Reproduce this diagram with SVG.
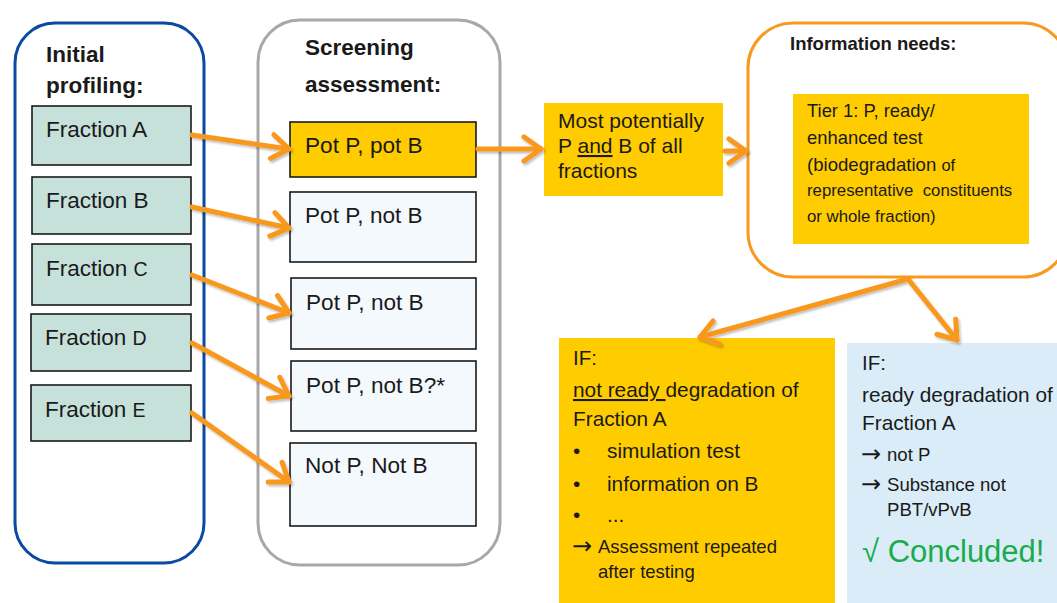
<svg xmlns="http://www.w3.org/2000/svg" width="1057" height="603" viewBox="0 0 1057 603">
  <defs>
    <style>
      text { font-family: "Liberation Sans", Arial, sans-serif; fill: #1a1a1a; }
      .title { font-weight: bold; font-size: 22.5px; }
      .frac { fill: #c6e0da; stroke: #1a1a1a; stroke-width: 1.6; }
      .frac-t { font-size: 22.5px; }
      .screen { fill: #f4f9fd; stroke: #1a1a1a; stroke-width: 1.6; }
      .screen-t { font-size: 22.6px; }
      .yellow { fill: #ffcc00; }
      .arr { font-family: "DejaVu Sans", sans-serif; font-size: 24px; }
      .conn { fill: none; stroke: #f8981d; stroke-width: 5; stroke-linecap: round; }
    </style>
    <marker id="chev" markerUnits="userSpaceOnUse" markerWidth="40" markerHeight="40" viewBox="-25 -20 40 40" refX="0" refY="0" orient="auto" overflow="visible">
      <path d="M -17 -12 L 0 0 L -17 12" fill="none" stroke="#f8981d" stroke-width="5" stroke-linecap="round" stroke-linejoin="round"/>
    </marker>
    <filter id="shade" x="-10%" y="-10%" width="120%" height="120%">
      <feDropShadow dx="1.5" dy="2" stdDeviation="1.2" flood-color="#000" flood-opacity="0.25"/>
    </filter>
  </defs>

  <rect width="1057" height="603" fill="#ffffff"/>

  <!-- column: initial profiling -->
  <g id="initial-profiling">
    <rect x="15" y="23" width="189" height="540" rx="40" fill="#ffffff" stroke="#0b4aa2" stroke-width="3"/>
    <text class="title" x="46" y="62">Initial</text>
    <text class="title" x="46" y="93">profiling:</text>
  </g>
  <g id="fraction-a">
    <rect class="frac" x="32" y="106" width="159" height="59"/>
    <text class="frac-t" x="46" y="137">Fraction A</text>
  </g>
  <g id="fraction-b">
    <rect class="frac" x="32" y="177" width="159" height="57"/>
    <text class="frac-t" x="46" y="208">Fraction B</text>
  </g>
  <g id="fraction-c">
    <rect class="frac" x="32" y="244" width="159" height="61"/>
    <text class="frac-t" x="46" y="276">Fraction <tspan font-size="19.5">C</tspan></text>
  </g>
  <g id="fraction-d">
    <rect class="frac" x="31" y="314" width="160" height="57"/>
    <text class="frac-t" x="45" y="345">Fraction <tspan font-size="19.5">D</tspan></text>
  </g>
  <g id="fraction-e">
    <rect class="frac" x="31" y="385" width="160" height="56"/>
    <text class="frac-t" x="45" y="417">Fraction <tspan font-size="19.5">E</tspan></text>
  </g>

  <!-- column: screening assessment -->
  <g id="screening-assessment">
    <rect x="258" y="20" width="242" height="545" rx="42" fill="#ffffff" stroke="#a8a8a8" stroke-width="3"/>
    <text class="title" x="305" y="55">Screening</text>
    <text class="title" x="305" y="92">assessment:</text>
  </g>
  <g id="pot-p-pot-b">
    <rect x="290" y="122" width="186" height="55" fill="#ffcc00" stroke="#1a1a1a" stroke-width="1.6"/>
    <text class="screen-t" x="305" y="153">Pot P, pot B</text>
  </g>
  <g id="pot-p-not-b-1">
    <rect class="screen" x="290" y="192" width="186" height="70"/>
    <text class="screen-t" x="305" y="223">Pot P, not B</text>
  </g>
  <g id="pot-p-not-b-2">
    <rect class="screen" x="291" y="278" width="185" height="71"/>
    <text class="screen-t" x="306" y="310">Pot P, not B</text>
  </g>
  <g id="pot-p-not-b-q">
    <rect class="screen" x="291" y="361" width="185" height="70"/>
    <text class="screen-t" x="306" y="393">Pot P, not B?*</text>
  </g>
  <g id="not-p-not-b">
    <rect class="screen" x="290" y="443" width="186" height="83"/>
    <text class="screen-t" x="305" y="473">Not P, Not B</text>
  </g>

  <!-- most potentially P and B -->
  <g id="most-potentially">
    <rect class="yellow" x="544" y="103" width="179" height="93"/>
    <text x="558" y="128" font-size="21">Most potentially</text>
    <text x="558" y="153" font-size="21">P <tspan text-decoration="underline">and</tspan> B of all</text>
    <text x="558" y="178" font-size="21">fractions</text>
  </g>

  <!-- information needs -->
  <g id="information-needs">
    <rect x="748" y="23" width="320" height="254" rx="45" fill="#ffffff" stroke="#f79a1e" stroke-width="3"/>
    <text x="790" y="50" font-size="18.5" font-weight="bold">Information needs:</text>
  </g>
  <g id="tier-1">
    <rect class="yellow" x="793" y="94" width="236" height="150"/>
    <text x="807" y="117" font-size="18.4">Tier 1: P, ready/</text>
    <text x="807" y="144" font-size="18.4">enhanced test</text>
    <text x="807" y="171" font-size="18.6">(biodegradation <tspan font-size="16.5">of</tspan></text>
    <text x="807" y="196" font-size="16.8" xml:space="preserve">representative  constituents</text>
    <text x="807" y="222" font-size="16.8">or whole fraction)</text>
  </g>

  <!-- outcome: not ready degradation -->
  <g id="if-not-ready">
    <rect class="yellow" x="559" y="338" width="276" height="265"/>
    <text x="573" y="365" font-size="20.5">IF:</text>
    <text x="573" y="397" font-size="20.8"><tspan text-decoration="underline">not ready </tspan>degradation of</text>
    <text x="573" y="426" font-size="20.8">Fraction A</text>
    <text x="573" y="458" font-size="20.8">•</text>
    <text x="607" y="458" font-size="20.8">simulation test</text>
    <text x="573" y="491" font-size="20.8">•</text>
    <text x="607" y="491" font-size="20.8">information on B</text>
    <text x="573" y="522" font-size="20.8">•</text>
    <text x="607" y="522" font-size="20.8">...</text>
    <text class="arr" x="572" y="554">→</text>
    <text x="598" y="553" font-size="18.5">Assessment repeated</text>
    <text x="598" y="578" font-size="18.5">after testing</text>
  </g>

  <!-- outcome: ready degradation -->
  <g id="if-ready">
    <rect x="847" y="343" width="215" height="265" fill="#d9ecf7"/>
    <text x="862" y="370" font-size="20.5">IF:</text>
    <text x="862" y="402" font-size="20.8">ready degradation of</text>
    <text x="862" y="430" font-size="20.8">Fraction A</text>
    <text class="arr" x="861" y="462">→</text>
    <text x="887" y="461" font-size="18.6">not P</text>
    <text class="arr" x="861" y="492">→</text>
    <text x="887" y="491" font-size="18.6">Substance not</text>
    <text x="887" y="516" font-size="18.6">PBT/vPvB</text>
    <text x="862" y="562" font-size="31" style="fill:#1aab4b">√ Concluded!</text>
  </g>

  <!-- connectors -->
  <g id="connectors" class="conn" filter="url(#shade)">
    <line x1="192" y1="135" x2="289" y2="149" marker-end="url(#chev)"/>
    <line x1="192" y1="207" x2="289" y2="228" marker-end="url(#chev)"/>
    <line x1="192" y1="275" x2="289" y2="313" marker-end="url(#chev)"/>
    <line x1="192" y1="343" x2="289" y2="396" marker-end="url(#chev)"/>
    <line x1="192" y1="413" x2="289" y2="482" marker-end="url(#chev)"/>
    <line x1="478" y1="149" x2="541" y2="149" marker-end="url(#chev)"/>
    <line x1="725" y1="151" x2="746" y2="151" marker-end="url(#chev)"/>
    <line x1="908" y1="279" x2="700" y2="337" marker-end="url(#chev)"/>
    <line x1="908" y1="279" x2="957" y2="340" marker-end="url(#chev)"/>
  </g>
</svg>
